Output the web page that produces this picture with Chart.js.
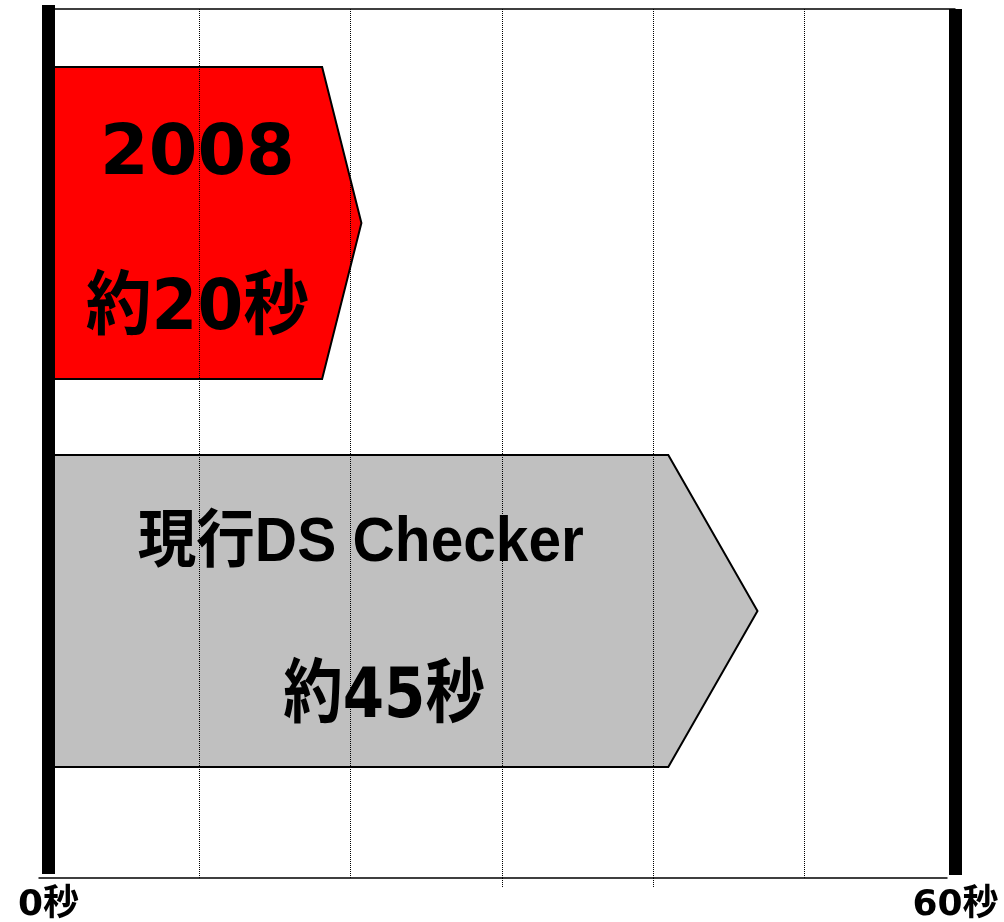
<!DOCTYPE html>
<html>
<head>
<meta charset="utf-8">
<script src="https://cdn.jsdelivr.net/npm/chart.js@4.4.1/dist/chart.umd.min.js"></script>
<style>
  html, body { margin: 0; padding: 0; background: #fff; overflow: hidden; }
  canvas { display: block; }
</style>
</head>
<body>
<canvas id="chart" width="1004" height="922"></canvas>
<script>
// Values (seconds)
const categories = ['2008', '現行DS Checker'];
const bodyEnds = [18.1, 41.0];   // where the flat part of each arrow ends
const tipEnds = [20.7, 46.9];    // arrow tip
const noteLabels = ['約20秒', '約45秒'];
const xTickValues = [0, 10, 20, 30, 40, 50, 60];
const xTickLabels = ['0秒', '', '', '', '', '', '60秒'];
const longTicks = [30, 40];

// look of the arrows and their text
const fills = ['#ff0000', '#c0c0c0'];
const cjkBold = '"DejaVu Sans", "Noto Sans CJK JP"';
const titleFonts = ['bold 70px ' + cjkBold, 'bold 63px "Liberation Sans", "Noto Sans CJK JP"'];
const titleScaleX = [1, 0.93];
const noteScaleX = [0.94, 0.85];
const titleFrac = [0.475, 0.44];
const noteFrac = [0.475, 0.473];

function drawText(ctx, text, font, cx, cy, sx) {
  ctx.save();
  ctx.translate(cx, cy);
  ctx.scale(sx, 1);
  ctx.font = font;
  ctx.fillStyle = '#000';
  ctx.textAlign = 'center';
  ctx.textBaseline = 'middle';
  ctx.fillText(text, 0, 0);
  ctx.restore();
}

const arrowPlugin = {
  id: 'arrows',
  beforeDatasetsDraw(chart) {
    const ctx = chart.ctx;
    const x = chart.scales.x;
    chart.getDatasetMeta(0).data.forEach((bar, i) => {
      const top = bar.y - bar.height / 2, bottom = bar.y + bar.height / 2;
      const left = bar.base, neck = x.getPixelForValue(bodyEnds[i]), tip = bar.x;
      ctx.save();
      ctx.beginPath();
      ctx.moveTo(left, top);
      ctx.lineTo(neck, top);
      ctx.lineTo(tip, bar.y);
      ctx.lineTo(neck, bottom);
      ctx.lineTo(left, bottom);
      ctx.closePath();
      ctx.fillStyle = fills[i];
      ctx.fill();
      ctx.lineWidth = 2;
      ctx.strokeStyle = '#000';
      ctx.stroke();
      ctx.restore();

      const w = tip - left, h = bar.height;
      drawText(ctx, categories[i], titleFonts[i], left + w * titleFrac[i], top + h * 0.285, titleScaleX[i]);
      drawText(ctx, noteLabels[i], 'bold 70px ' + cjkBold, left + w * noteFrac[i], top + h * 0.78, noteScaleX[i]);
    });
  },
  afterDraw(chart) {
    const { ctx, chartArea: a, scales: { x } } = chart;
    ctx.save();
    ctx.strokeStyle = '#000';
    ctx.lineWidth = 1.5;
    ctx.beginPath();
    ctx.moveTo(a.left, a.top);
    ctx.lineTo(a.right, a.top);
    ctx.moveTo(a.left - 10, a.bottom);
    ctx.lineTo(a.right - 8, a.bottom);
    ctx.stroke();
    // thick start / end bars
    ctx.fillStyle = '#000';
    const l = x.getPixelForValue(xTickValues[0]);
    const r = x.getPixelForValue(xTickValues[xTickValues.length - 1]);
    ctx.fillRect(l - 6.5, a.top - 4, 13, a.bottom - a.top);
    ctx.fillRect(r - 6.5, a.top, 13, a.bottom - a.top - 3);
    ctx.restore();
  }
};

const isEdge = v => v === xTickValues[0] || v === xTickValues[xTickValues.length - 1];

new Chart(document.getElementById('chart'), {
  type: 'bar',
  data: {
    datasets: [{
      data: categories.map((c, i) => ({ y: i, x: [0, tipEnds[i]] })),
      backgroundColor: 'rgba(0,0,0,0)',
      borderWidth: 0,
      categoryPercentage: 1,
      barPercentage: 0.804
    }]
  },
  options: {
    indexAxis: 'y',
    responsive: false,
    animation: false,
    events: [],
    layout: { padding: { left: 48.5, right: 48.5, top: 9, bottom: 0 } },
    scales: {
      x: {
        type: 'linear', min: 0, max: 60,
        afterBuildTicks: s => { s.ticks = xTickValues.map(v => ({ value: v })); },
        afterFit: s => { s.height = 44; },
        grid: {
          z: 1,
          color: c => isEdge(c.tick.value) ? 'rgba(0,0,0,0)' : '#000',
          lineWidth: 1,
          drawTicks: true,
          tickLength: 10,
          tickColor: c => longTicks.includes(c.tick.value) ? '#000' : 'rgba(0,0,0,0)',
          tickBorderDash: [1, 1]
        },
        border: { display: false, dash: [1, 1] },
        ticks: {
          autoSkip: false, maxRotation: 0, padding: 0, color: '#000',
          font: { family: cjkBold, size: 36, weight: 'bold', lineHeight: 1 },
          callback: (v, i) => xTickLabels[i]
        }
      },
      y: {
        type: 'linear', reverse: true, offset: false, min: -0.5515, max: 1.6882, display: false,
        grid: { offset: false },
        afterBuildTicks: s => { s.ticks = categories.map((c, i) => ({ value: i })); }
      }
    },
    plugins: { legend: { display: false }, tooltip: { enabled: false } }
  },
  plugins: [arrowPlugin]
});
</script>
</body>
</html>
